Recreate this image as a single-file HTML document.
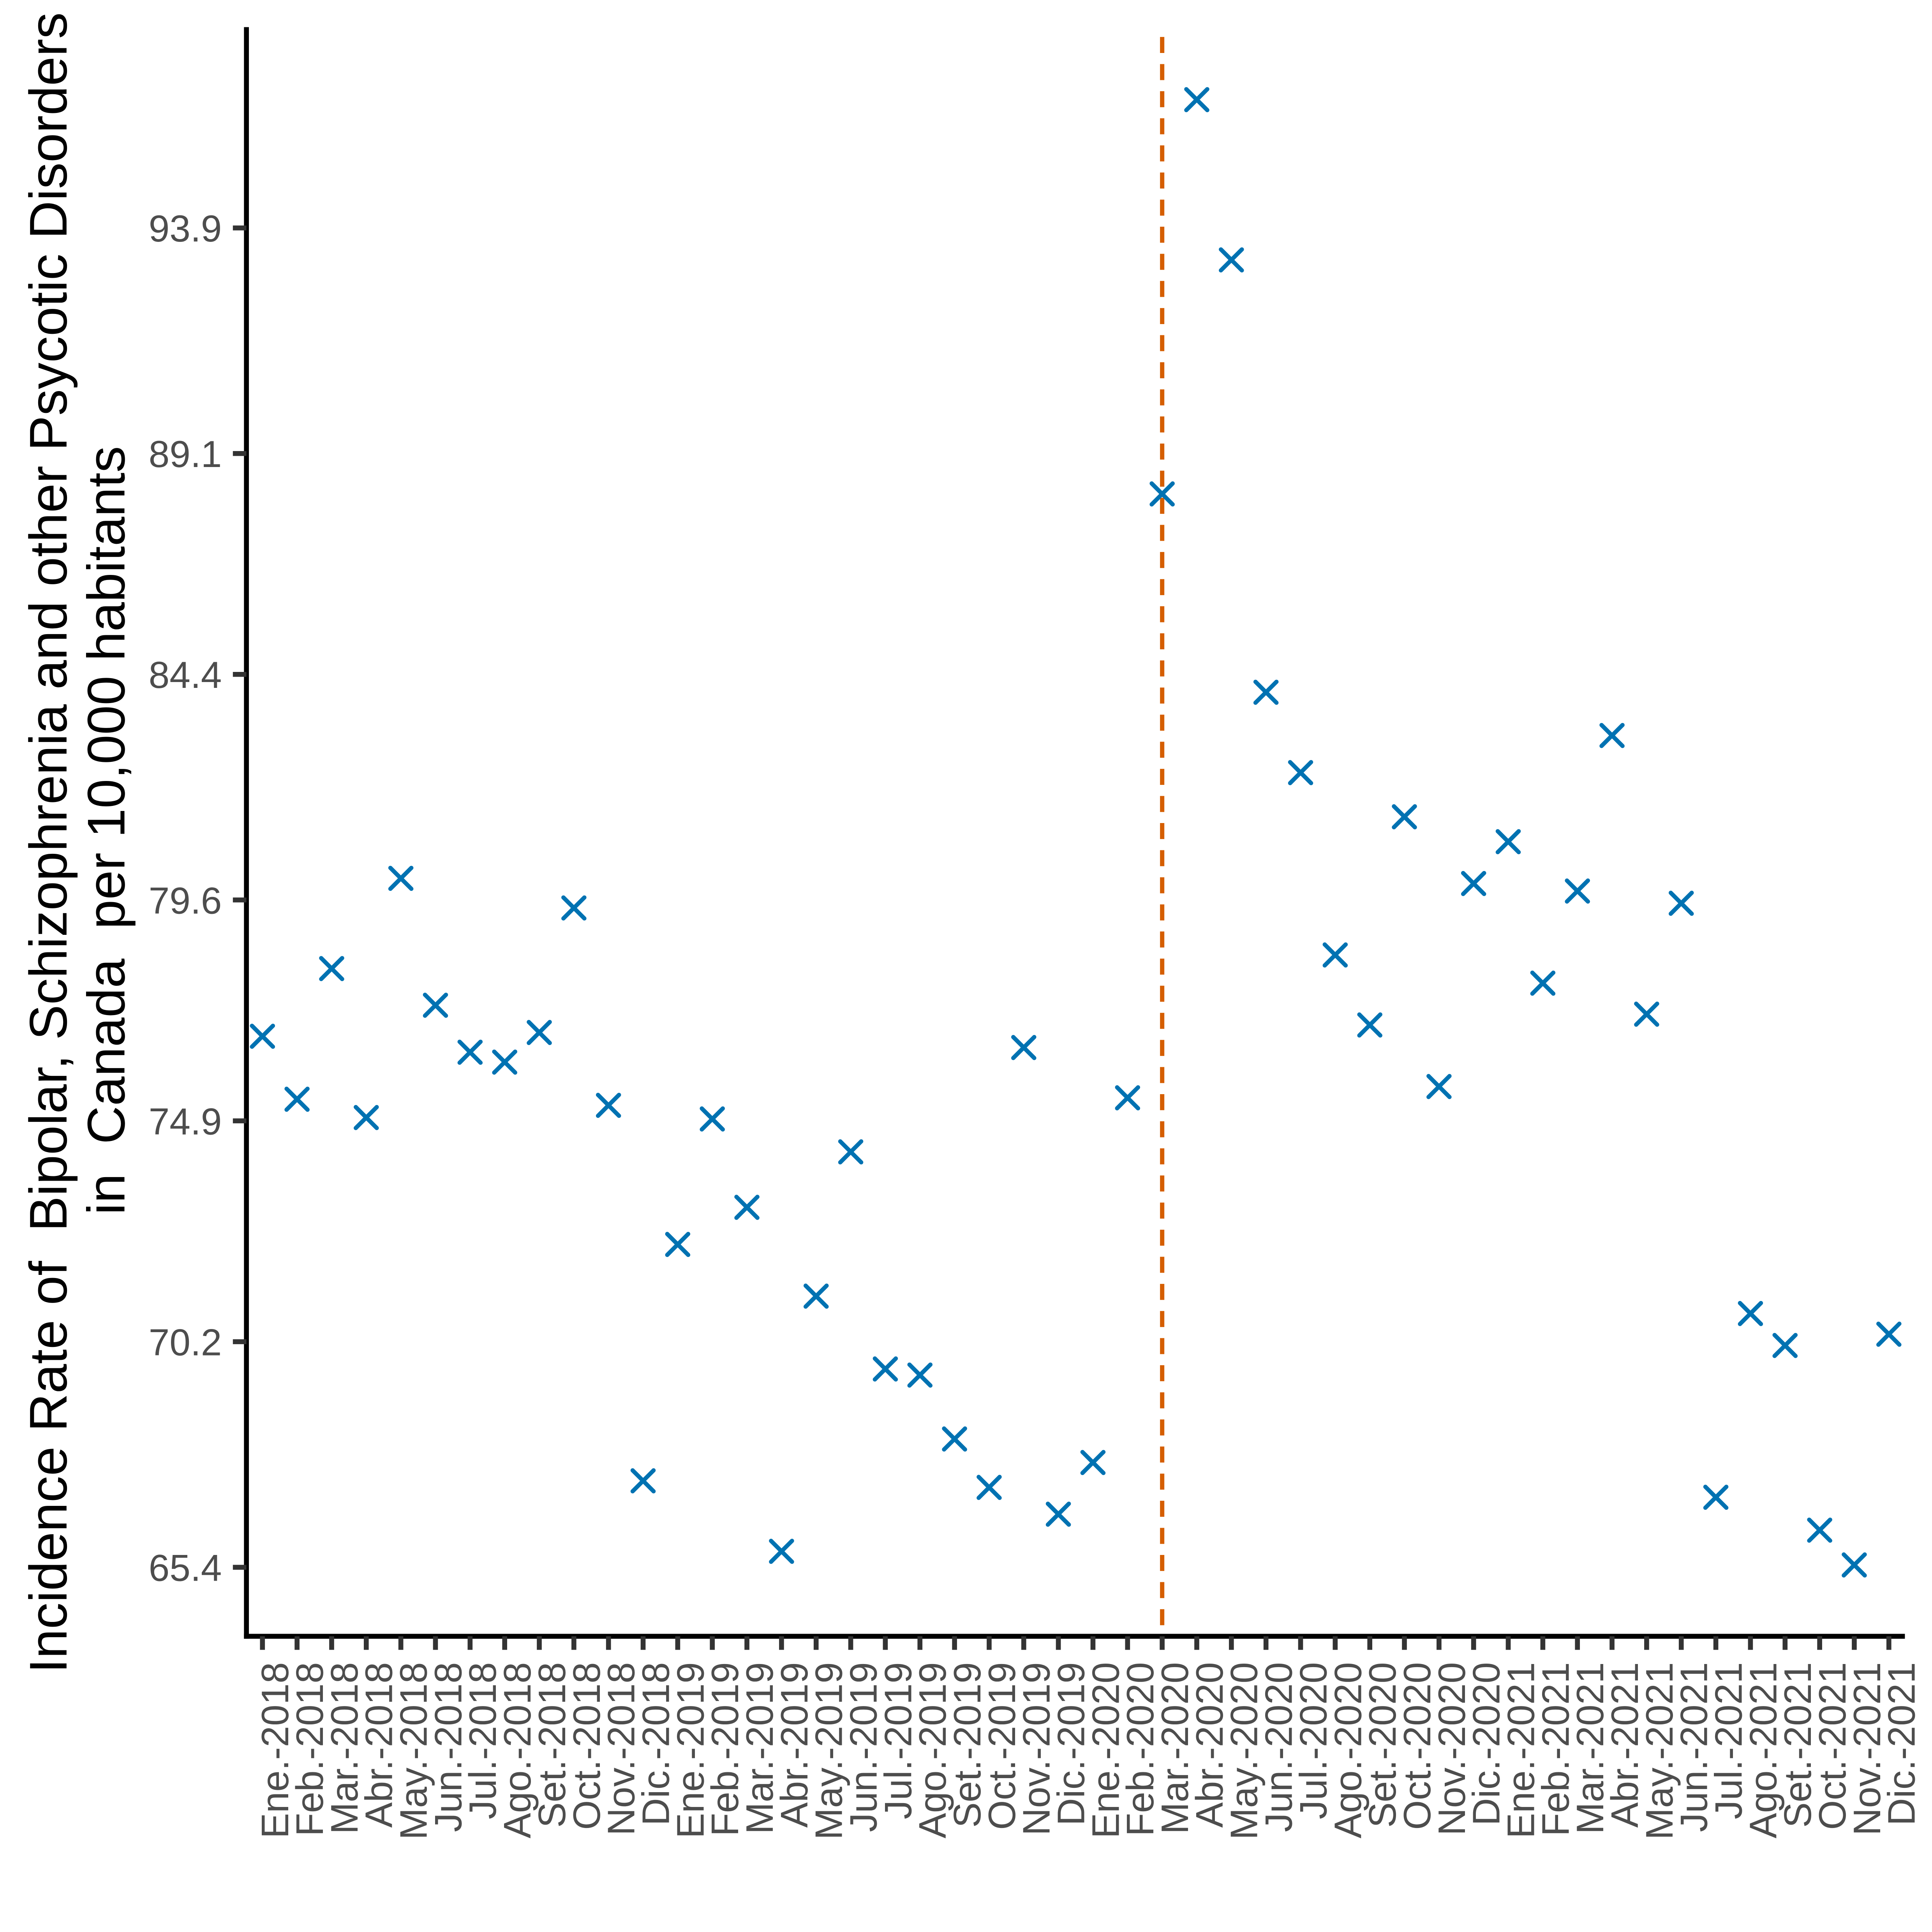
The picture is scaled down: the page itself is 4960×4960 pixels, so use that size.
<!DOCTYPE html>
<html><head><meta charset="utf-8"><style>html,body{margin:0;padding:0;background:#fff}svg{display:block}</style></head>
<body>
<svg id="chart" width="4960" height="4960" viewBox="0 0 1568 1568" xmlns="http://www.w3.org/2000/svg" font-family="Liberation Sans, Arial, sans-serif">
<rect width="1568" height="1568" fill="#fff"/>
<g id="plot"></g>
<g fill="#000" font-size="43" text-anchor="middle">
<text transform="translate(54,684) rotate(-90)">Incidence Rate of&#160; Bipolar, Schizophrenia and other Psycotic Disorders</text>
<text transform="translate(101,674) rotate(-90)">in&#160; Canada&#160; per 10,000 habitants</text>
</g>
</svg>
<script>
const months=["Ene.-2018","Feb.-2018","Mar.-2018","Abr.-2018","May.-2018","Jun.-2018","Jul.-2018","Ago.-2018","Set.-2018","Oct.-2018","Nov.-2018","Dic.-2018","Ene.-2019","Feb.-2019","Mar.-2019","Abr.-2019","May.-2019","Jun.-2019","Jul.-2019","Ago.-2019","Set.-2019","Oct.-2019","Nov.-2019","Dic.-2019","Ene.-2020","Feb.-2020","Mar.-2020","Abr.-2020","May.-2020","Jun.-2020","Jul.-2020","Ago.-2020","Set.-2020","Oct.-2020","Nov.-2020","Dic.-2020","Ene.-2021","Feb.-2021","Mar.-2021","Abr.-2021","May.-2021","Jun.-2021","Jul.-2021","Ago.-2021","Set.-2021","Oct.-2021","Nov.-2021","Dic.-2021"];
const rates=[76.70,75.36,78.14,74.97,80.06,77.36,76.36,76.15,76.78,79.43,75.23,67.24,72.27,74.94,73.06,65.74,71.17,74.24,69.62,69.49,68.13,67.10,76.46,66.53,67.63,75.39,88.24,96.63,93.22,84.02,82.31,78.43,76.94,81.37,75.63,79.95,80.84,77.83,79.79,83.10,77.17,79.53,66.89,70.80,70.12,66.19,65.45,70.36];
const yTicks=[65.4,70.2,74.9,79.6,84.4,89.1,93.9];
const breakMonth="Mar.-2020";
const NS="http://www.w3.org/2000/svg";
const g=document.getElementById('plot');
const xOf=i=>213+i*(1533-213)/(months.length-1);
const yOf=v=>1272-(v-65.4)*(1272-185)/(93.9-65.4);
function mk(t,a,p){const e=document.createElementNS(NS,t);for(const k in a)e.setAttribute(k,a[k]);(p||g).appendChild(e);return e;}
const ya=mk('line',{x1:200,y1:22,x2:200,y2:1330,stroke:'#000','stroke-width':4});


const xa=mk('line',{x1:198,y1:1328,x2:1546,y2:1328,stroke:'#000','stroke-width':4});


yTicks.forEach(v=>{
  const y=yOf(v);
  const t=mk('line',{x1:189,y1:y,x2:200,y2:y,stroke:'#333','stroke-width':4});
  
  
  const l=mk('text',{x:180,y:y+11,'text-anchor':'end','font-size':30.5,fill:'#4d4d4d'});
  l.textContent=v.toFixed(1);
  
  
});
months.forEach((m,i)=>{
  const x=xOf(i);
  const t=mk('line',{x1:x,y1:1328,x2:x,y2:1339,stroke:'#333','stroke-width':4});
  
  
  const l=mk('text',{transform:`translate(${x+21},1349) rotate(-90)`,'text-anchor':'end','font-size':31,fill:'#4d4d4d'});
  l.textContent=m;
  
  
});
const bx=xOf(months.indexOf(breakMonth));
const dl=mk('line',{x1:bx,y1:30,x2:bx,y2:1328,stroke:'#D55E00','stroke-width':3.5,'stroke-dasharray':'13,9'});


rates.forEach((v,i)=>{
  const x=xOf(i),y=yOf(v),s=8.5;
  const p=mk('path',{d:`M${x-s},${y-s}L${x+s},${y+s}M${x-s},${y+s}L${x+s},${y-s}`,stroke:'#0072B2','stroke-width':3.4,'stroke-linecap':'round',fill:'none'});
  
  
});
</script>
</body></html>
